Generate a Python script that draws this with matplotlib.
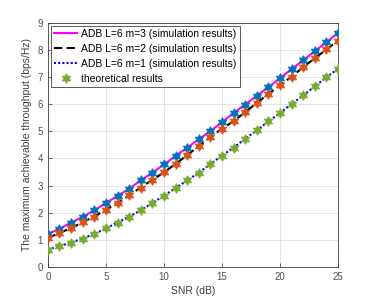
import matplotlib
matplotlib.use("Agg")
import numpy as np
import matplotlib.pyplot as plt
from matplotlib.lines import Line2D
from matplotlib.path import Path

plt.rcParams['font.family'] = ['Liberation Sans', 'DejaVu Sans']

snr = list(range(0, 26))
m3 = [1.22, 1.41, 1.64, 1.85, 2.09, 2.36, 2.62, 2.89, 3.19, 3.48, 3.78, 4.10, 4.40,
      4.71, 5.01, 5.34, 5.68, 5.99, 6.32, 6.63, 6.96, 7.30, 7.62, 7.96, 8.29, 8.63]
m2 = [1.06, 1.26, 1.43, 1.65, 1.86, 2.11, 2.37, 2.64, 2.93, 3.21, 3.49, 3.80, 4.12,
      4.46, 4.79, 5.10, 5.38, 5.71, 6.05, 6.38, 6.70, 7.02, 7.37, 7.70, 8.02, 8.34]
m1 = [0.64, 0.77, 0.90, 1.05, 1.22, 1.42, 1.64, 1.86, 2.09, 2.36, 2.63, 2.91, 3.19,
      3.48, 3.79, 4.11, 4.40, 4.73, 5.04, 5.37, 5.68, 6.01, 6.33, 6.66, 7.00, 7.30]

labels = ['ADB L=6 m=3 (simulation results)',
          'ADB L=6 m=2 (simulation results)',
          'ADB L=6 m=1 (simulation results)',
          'theoretical results']

# hexagram (six-pointed star) marker
ang = np.pi / 2 + np.arange(12) * np.pi / 6
rad = np.where(np.arange(12) % 2 == 0, 1.0, 1 / np.sqrt(3))
verts = np.column_stack([rad * np.cos(ang), rad * np.sin(ang)])
verts = np.vstack([verts, verts[:1]])
codes = [Path.MOVETO] + [Path.LINETO] * 11 + [Path.CLOSEPOLY]
hexagram = Path(verts, codes)

fig = plt.figure(figsize=(3.74, 3.01), dpi=100)
ax = fig.add_axes([0.128, 0.113, 0.776, 0.811])

ax.plot(snr, m3, color='#FF00FF', lw=1.5, ls='-', zorder=2)
ax.plot(snr, m2, color='black', lw=1.5, ls=(0, (4, 2)), zorder=2)
ax.plot(snr, m1, color='#0000FF', lw=1.5, ls=(0, (1, 1)), zorder=2)
ms = 7
ax.plot(snr, m3, ls='none', marker=hexagram, color='#0072BD', ms=ms, mew=0.5, zorder=3)
ax.plot(snr, m2, ls='none', marker=hexagram, color='#D95319', ms=ms, mew=0.5, zorder=3)
ax.plot(snr, m1, ls='none', marker=hexagram, color='#77AC30', ms=ms, mew=0.5, zorder=3)

ax.set_xlim(0, 25)
ax.set_ylim(0, 9)
ax.set_xticks([0, 5, 10, 15, 20, 25])
ax.set_yticks(range(0, 10))
ax.grid(True, color='#e0e0e0', lw=0.6)
ax.set_axisbelow(True)
ax.tick_params(direction='in', labelsize=7, colors='#505050', length=3, width=0.6)
for s in ax.spines.values():
    s.set_color('#404040')
    s.set_linewidth(0.6)
ax.set_xlabel('SNR (dB)', fontsize=7.5, color='#404040', labelpad=3)
ax.set_ylabel('The maximum achievable throughput (bps/Hz)', fontsize=7.5, color='#404040', labelpad=4)

handles = [Line2D([], [], color='#FF00FF', lw=1.5, ls='-'),
           Line2D([], [], color='black', lw=1.5, ls=(0, (4, 2))),
           Line2D([], [], color='#0000FF', lw=1.5, ls=(0, (1, 1))),
           Line2D([], [], color='#77AC30', ls='none', marker=hexagram, ms=ms, mew=0.5)]
leg = ax.legend(handles, labels, loc='upper left', fontsize=7.5, frameon=True,
                fancybox=False, edgecolor='#404040', framealpha=1,
                handlelength=2.2, handletextpad=0.4, borderpad=0.3,
                labelspacing=0.48, borderaxespad=0.3)
leg.get_frame().set_linewidth(0.6)

fig.savefig('out.png', dpi=100)
